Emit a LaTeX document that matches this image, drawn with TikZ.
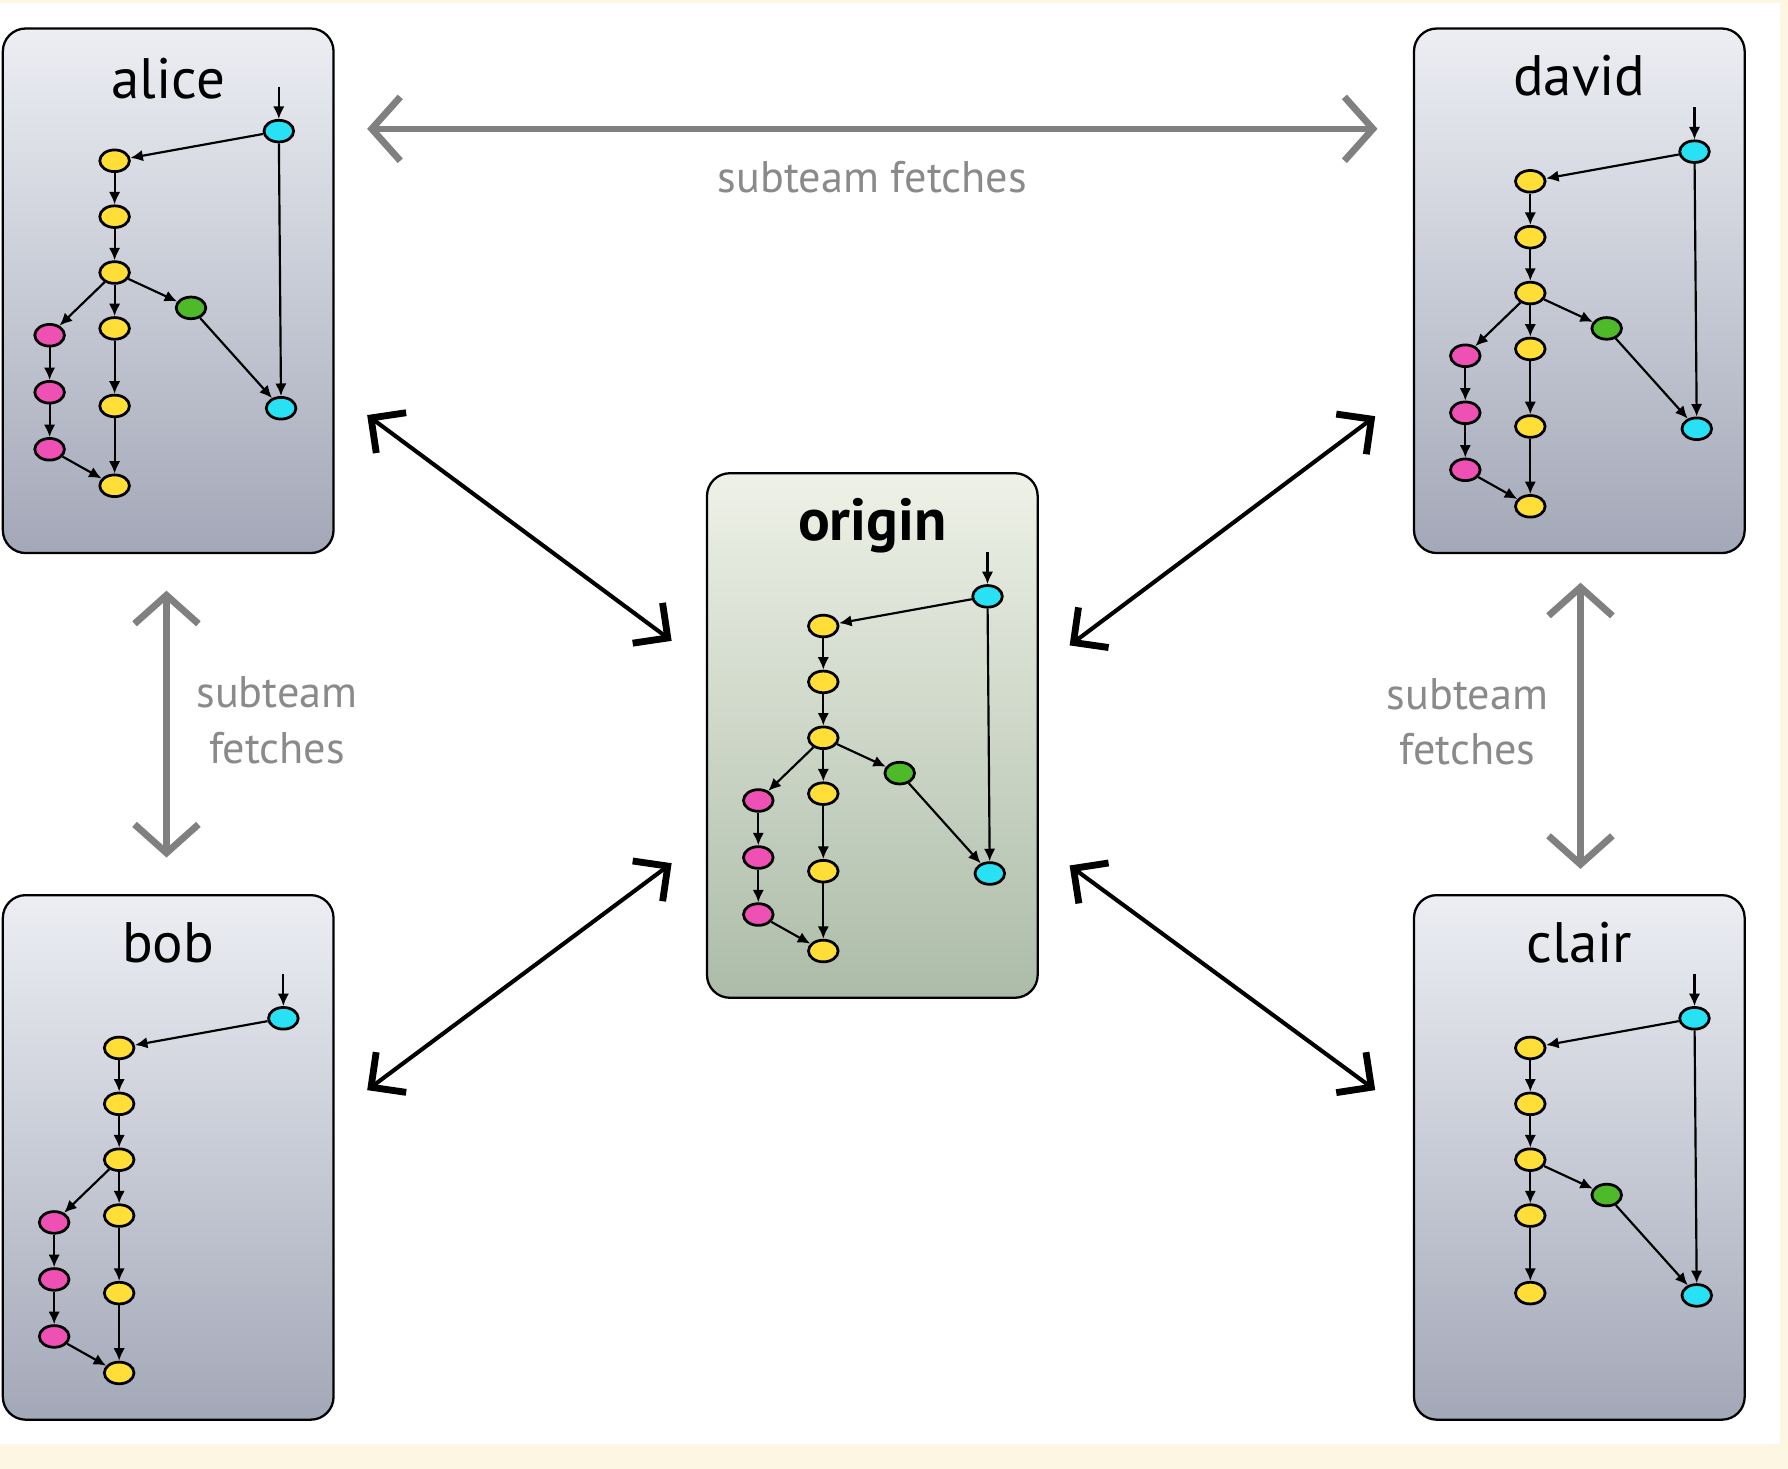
\documentclass[tikz,border=0pt]{standalone}
\usepackage{fontspec}
\setmainfont{PT Sans}
\usepackage[rgb]{xcolor}
\usepackage{tikz}
\usetikzlibrary{shapes.geometric,arrows.meta}

\definecolor{cream}{RGB}{253,246,227}
\definecolor{commityellow}{RGB}{255,222,56}
\definecolor{commitcyan}{RGB}{40,225,245}
\definecolor{commitpink}{RGB}{238,80,180}
\definecolor{commitgreen}{RGB}{78,186,42}
\definecolor{boxtop}{RGB}{236,238,243}
\definecolor{boxbottom}{RGB}{163,168,184}
\definecolor{origintop}{RGB}{238,241,231}
\definecolor{originbottom}{RGB}{172,188,168}
\definecolor{fetchgray}{RGB}{128,128,128}
\definecolor{labelgray}{RGB}{138,138,138}

\tikzset{
  repo/.style={draw=black,line width=1pt,rounded corners=10pt,
    minimum width=145pt,minimum height=230pt,inner sep=0pt,
    top color=boxtop,bottom color=boxbottom},
  reponame/.style={font=\fontsize{25}{30}\selectfont,anchor=base,inner sep=0pt},
  commit/.style={ellipse,draw=black,line width=1.2pt,
    minimum width=13pt,minimum height=9.5pt,inner sep=0pt},
  edge/.style={-{Latex[length=5.5pt,width=5pt]},line width=0.95pt},
  push/.style={{Straight Barb[length=11pt,width=22pt,line width=3pt]}-{Straight Barb[length=11pt,width=22pt,line width=3pt]},
    line width=1.8pt},
  fetch/.style={fetchgray,{Straight Barb[length=12.5pt,width=28pt,line width=3pt]}-{Straight Barb[length=12.5pt,width=28pt,line width=3pt]},
    line width=2.8pt},
  fetchlabel/.style={labelgray,font=\fontsize{19.4}{24.5}\selectfont,align=center}
}

% commits of one repository: #1 prefix, #2 commits, #3 parent links
\newcommand\commitgraph[3]{%
  \coordinate (#1head) at (247,70);
  \foreach \n/\x/\y/\col in #2
    \node[commit,fill=commit\col] (#1\n) at (\x,\y) {};
  \draw[edge] (#1head) -- (#1t);
  \foreach \a/\b in #3
    \draw[edge] (#1\a) -- (#1\b);
}
\newcommand\fullcommits{t/247/109/cyan, y1/103/135/yellow, y2/103/184/yellow, y3/103/233/yellow,
  y4/103/282/yellow, y5/103/350/yellow, y6/103/420/yellow, p1/46/288/pink, p2/46/338/pink,
  p3/46/388/pink, g/170/264/green, b/249/352/cyan}
\newcommand\fulllinks{t/y1,y1/y2,y2/y3,y3/y4,y4/y5,y5/y6,y3/p1,p1/p2,p2/p3,p3/y6,y3/g,g/b,t/b}
\newcommand\bobcommits{t/247/109/cyan, y1/103/135/yellow, y2/103/184/yellow, y3/103/233/yellow,
  y4/103/282/yellow, y5/103/350/yellow, y6/103/420/yellow, p1/46/288/pink, p2/46/338/pink,
  p3/46/388/pink}
\newcommand\boblinks{t/y1,y1/y2,y2/y3,y3/y4,y4/y5,y5/y6,y3/p1,p1/p2,p2/p3,p3/y6}
\newcommand\claircommits{t/247/109/cyan, y1/103/135/yellow, y2/103/184/yellow, y3/103/233/yellow,
  y4/103/282/yellow, y5/103/350/yellow, g/170/264/green, b/249/352/cyan}
\newcommand\clairlinks{t/y1,y1/y2,y2/y3,y3/y4,y4/y5,y3/g,g/b,t/b}

\begin{document}
\begin{tikzpicture}[x=0.5pt,y=-0.5pt]
        \useasboundingbox (0,0) rectangle (1568,1288);
        \fill[cream] (0,0) rectangle (1568,1288);
        \fill[white] (0,3) rectangle (1561,1266);

        %the five repositories
        \node[repo] (alice) at (147.5,255) {};
        \node[repo] (david) at (1385,255) {};
        \node[repo] (bob) at (147.5,1015) {};
        \node[repo] (clair) at (1385,1015) {};
        \node[repo,top color=origintop,bottom color=originbottom] (origin) at (765,645) {};

        \node[reponame] (alice-name) at ([yshift=-31pt]alice.north) {alice};
        \node[reponame] (david-name) at ([yshift=-30pt]david.north) {david};
        \node[reponame] (bob-name) at ([yshift=-30pt]bob.north) {bob};
        \node[reponame] (clair-name) at ([yshift=-30pt]clair.north) {clair};
        \node[reponame,font=\fontsize{26}{30}\selectfont] (origin-name) at ([yshift=-30pt]origin.north) {\bfseries origin};

        %history in each of them
        \begin{scope}[shift={([xshift=-2pt,yshift=9pt]alice.north west)}]
        \commitgraph{a}{\fullcommits}{\fulllinks}
        \end{scope}
        \begin{scope}[shift={(origin.north west)}]
        \commitgraph{o}{\fullcommits}{\fulllinks}
        \end{scope}
        \begin{scope}[shift={(david.north west)}]
        \commitgraph{d}{\fullcommits}{\fulllinks}
        \end{scope}
        \begin{scope}[shift={(bob.north west)}]
        \commitgraph{b}{\bobcommits}{\boblinks}
        \end{scope}
        \begin{scope}[shift={(clair.north west)}]
        \commitgraph{c}{\claircommits}{\clairlinks}
        \end{scope}

        %push and fetch with origin
        \coordinate (alice-push) at (322,364);
        \coordinate (david-push) at (1206,365);
        \coordinate (bob-push) at (322,956);
        \coordinate (clair-push) at (1206,956);
        \coordinate (origin-nw) at (589,562);
        \coordinate (origin-ne) at (938,566);
        \coordinate (origin-sw) at (589,757);
        \coordinate (origin-se) at (938,759);
        \foreach \a/\b in {alice-push/origin-nw, david-push/origin-ne, bob-push/origin-sw, clair-push/origin-se}
        \draw[push] (\a) -- (\b);

        %subteam fetches
        \coordinate (top-left) at (322,113);
        \coordinate (top-right) at (1208,113);
        \coordinate (left-up) at (146,518);
        \coordinate (left-down) at (146,752);
        \coordinate (right-up) at (1386,511);
        \coordinate (right-down) at (1386,762);
        \foreach \a/\b in {top-left/top-right, left-up/left-down, right-up/right-down}
        \draw[fetch] (\a) -- (\b);
        \node[fetchlabel] (fetch-top) at (765,155) {subteam fetches};
        \node[fetchlabel] (fetch-left) at (243,632) {subteam\\fetches};
        \node[fetchlabel] (fetch-right) at (1287,633) {subteam\\fetches};
\end{tikzpicture}
\end{document}
